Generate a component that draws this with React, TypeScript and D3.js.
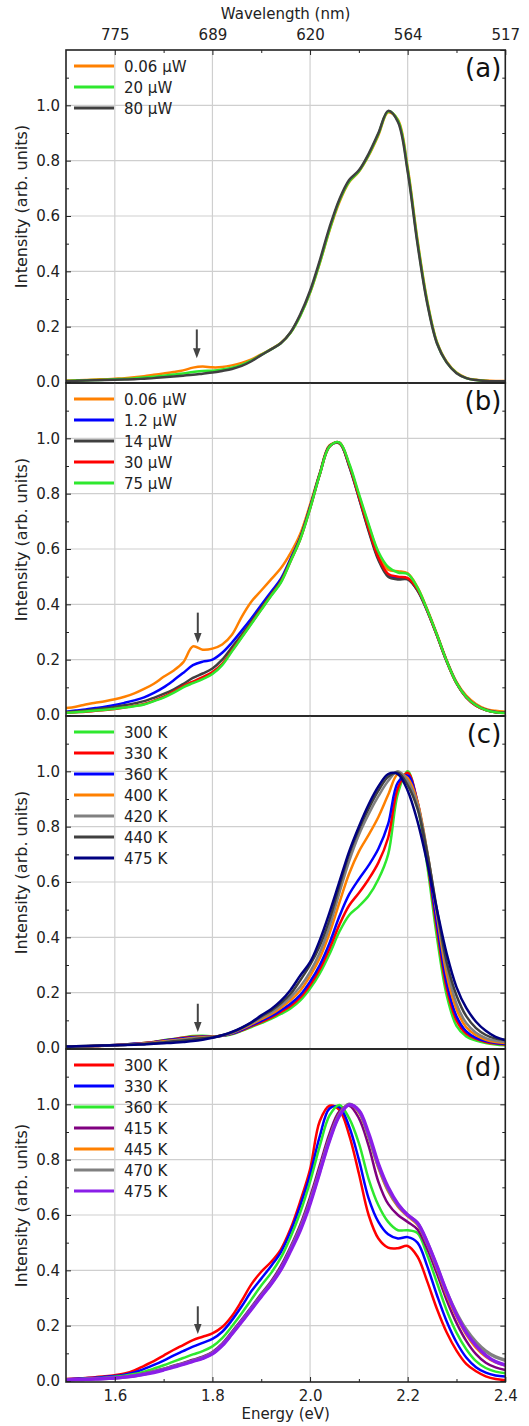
import React, { useRef, useEffect } from 'react';
import * as d3 from 'd3';

// photon energy grid (eV)
const ENERGY = [
  1.5, 1.52, 1.54, 1.56, 1.58, 1.6, 1.62, 1.64, 1.66, 1.68,
  1.7, 1.72, 1.74, 1.76, 1.78, 1.8, 1.82, 1.84, 1.86, 1.88,
  1.9, 1.92, 1.94, 1.96, 1.98, 2.0, 2.02, 2.04, 2.06, 2.08,
  2.1, 2.12, 2.14, 2.16, 2.18, 2.2, 2.22, 2.24, 2.26, 2.28,
  2.3, 2.32, 2.34, 2.36, 2.38, 2.4,
];

const ENERGY_TICKS = [1.6, 1.8, 2.0, 2.2, 2.4];
const ENERGY_MINOR = [1.7, 1.9, 2.1, 2.3];
const WAVELENGTH_LABELS = ['775', '689', '620', '564', '517'];
const Y_TICKS = [0, 0.2, 0.4, 0.6, 0.8, 1.0];
const Y_MINOR = [0.1, 0.3, 0.5, 0.7, 0.9, 1.1];

// (a) power series
const A_ORANGE = [
  0.005, 0.006, 0.007, 0.009, 0.01, 0.012, 0.014, 0.017, 0.021, 0.026,
  0.031, 0.036, 0.042, 0.052, 0.056, 0.053, 0.054, 0.06, 0.069, 0.082,
  0.1, 0.119, 0.141, 0.178, 0.24, 0.322, 0.43, 0.548, 0.65, 0.722,
  0.76, 0.818, 0.892, 0.975, 0.948, 0.775, 0.515, 0.295, 0.145, 0.073,
  0.034, 0.015, 0.008, 0.005, 0.004, 0.004,
];
const A_GREEN = [
  0.004, 0.005, 0.006, 0.007, 0.008, 0.01, 0.011, 0.013, 0.016, 0.019,
  0.023, 0.027, 0.031, 0.036, 0.04, 0.041, 0.045, 0.052, 0.062, 0.078,
  0.098, 0.118, 0.14, 0.178, 0.24, 0.324, 0.432, 0.552, 0.655, 0.725,
  0.762, 0.821, 0.896, 0.978, 0.945, 0.768, 0.508, 0.29, 0.142, 0.071,
  0.033, 0.014, 0.007, 0.004, 0.003, 0.003,
];
const A_GRAY = [
  0.003, 0.004, 0.005, 0.006, 0.007, 0.008, 0.009, 0.01, 0.012, 0.014,
  0.017, 0.02, 0.023, 0.026, 0.03, 0.034, 0.04, 0.047, 0.058, 0.075,
  0.097, 0.118, 0.14, 0.18, 0.245, 0.33, 0.44, 0.56, 0.66, 0.73,
  0.765, 0.825, 0.9, 0.98, 0.94, 0.76, 0.5, 0.284, 0.139, 0.07,
  0.032, 0.014, 0.007, 0.004, 0.003, 0.003,
];

// (b) power series
const B_ORANGE = [
  0.025, 0.03, 0.038, 0.044, 0.05, 0.057, 0.066, 0.078, 0.094, 0.113,
  0.138, 0.16, 0.19, 0.248, 0.236, 0.24, 0.255, 0.29, 0.355, 0.41,
  0.45, 0.49, 0.53, 0.585, 0.655, 0.76, 0.875, 0.975, 0.982, 0.905,
  0.795, 0.685, 0.585, 0.525, 0.52, 0.512, 0.462, 0.382, 0.292, 0.198,
  0.12, 0.07, 0.04, 0.022, 0.015, 0.012,
];
const B_BLUE = [
  0.012, 0.016, 0.02, 0.025, 0.03, 0.036, 0.044, 0.053, 0.064, 0.08,
  0.1, 0.125, 0.152, 0.18, 0.193, 0.2, 0.225, 0.262, 0.305, 0.35,
  0.398, 0.445, 0.492, 0.565, 0.642, 0.752, 0.872, 0.972, 0.983, 0.902,
  0.787, 0.67, 0.565, 0.505, 0.495, 0.492, 0.452, 0.377, 0.288, 0.194,
  0.116, 0.065, 0.035, 0.019, 0.011, 0.008,
];
const B_GRAY = [
  0.01, 0.013, 0.016, 0.02, 0.024, 0.029, 0.035, 0.042, 0.05, 0.062,
  0.076, 0.092, 0.112, 0.134, 0.15, 0.168, 0.2, 0.245, 0.29, 0.338,
  0.388, 0.436, 0.485, 0.56, 0.64, 0.75, 0.872, 0.972, 0.983, 0.9,
  0.785, 0.665, 0.56, 0.5, 0.49, 0.49, 0.45, 0.376, 0.287, 0.193,
  0.115, 0.064, 0.034, 0.018, 0.01, 0.008,
];
const B_RED = [
  0.008, 0.01, 0.012, 0.015, 0.018, 0.022, 0.027, 0.033, 0.04, 0.052,
  0.066, 0.084, 0.104, 0.121, 0.137, 0.155, 0.185, 0.233, 0.282, 0.332,
  0.382, 0.432, 0.48, 0.556, 0.636, 0.746, 0.87, 0.97, 0.985, 0.905,
  0.79, 0.675, 0.57, 0.51, 0.5, 0.495, 0.455, 0.378, 0.288, 0.194,
  0.115, 0.064, 0.034, 0.018, 0.01, 0.007,
];
const B_GREEN = [
  0.008, 0.01, 0.013, 0.016, 0.019, 0.023, 0.027, 0.032, 0.038, 0.05,
  0.063, 0.08, 0.1, 0.115, 0.13, 0.148, 0.18, 0.23, 0.28, 0.33,
  0.38, 0.43, 0.478, 0.555, 0.635, 0.745, 0.87, 0.97, 0.985, 0.91,
  0.8, 0.69, 0.59, 0.535, 0.515, 0.51, 0.46, 0.38, 0.29, 0.195,
  0.116, 0.065, 0.035, 0.018, 0.01, 0.007,
];

// (c) temperature series
const C_300 = [
  0.003, 0.004, 0.005, 0.007, 0.009, 0.011, 0.013, 0.015, 0.018, 0.022,
  0.028, 0.033, 0.038, 0.043, 0.044, 0.042, 0.044, 0.05, 0.062, 0.076,
  0.09, 0.105, 0.123, 0.143, 0.172, 0.215, 0.27, 0.34, 0.42, 0.48,
  0.512, 0.55, 0.61, 0.7, 0.92, 1.0, 0.88, 0.66, 0.4, 0.19,
  0.08, 0.042, 0.027, 0.018, 0.013, 0.01,
];
const C_330 = [
  0.004, 0.005, 0.006, 0.007, 0.009, 0.011, 0.013, 0.015, 0.018, 0.022,
  0.027, 0.032, 0.037, 0.041, 0.042, 0.041, 0.044, 0.051, 0.064, 0.079,
  0.094, 0.11, 0.13, 0.152, 0.183, 0.228, 0.285, 0.36, 0.445, 0.515,
  0.56, 0.61, 0.67, 0.76, 0.94, 0.995, 0.89, 0.68, 0.43, 0.215,
  0.1, 0.052, 0.033, 0.022, 0.016, 0.013,
];
const C_360 = [
  0.004, 0.005, 0.006, 0.007, 0.009, 0.011, 0.013, 0.015, 0.017, 0.021,
  0.026, 0.031, 0.035, 0.039, 0.041, 0.04, 0.044, 0.052, 0.066, 0.082,
  0.098, 0.115, 0.136, 0.16, 0.192, 0.24, 0.3, 0.38, 0.475, 0.555,
  0.61, 0.66, 0.72, 0.81, 0.96, 0.985, 0.89, 0.69, 0.45, 0.235,
  0.115, 0.06, 0.037, 0.025, 0.018, 0.015,
];
const C_400 = [
  0.004, 0.005, 0.006, 0.007, 0.008, 0.01, 0.012, 0.014, 0.016, 0.02,
  0.024, 0.028, 0.032, 0.036, 0.039, 0.04, 0.045, 0.054, 0.069, 0.086,
  0.104, 0.122, 0.145, 0.172, 0.208, 0.26, 0.325, 0.415, 0.525, 0.63,
  0.71, 0.77, 0.835, 0.915, 0.99, 0.975, 0.89, 0.71, 0.48, 0.265,
  0.14, 0.075, 0.046, 0.03, 0.022, 0.018,
];
const C_420 = [
  0.004, 0.005, 0.006, 0.007, 0.008, 0.01, 0.011, 0.013, 0.015, 0.018,
  0.022, 0.026, 0.03, 0.034, 0.037, 0.039, 0.045, 0.055, 0.071, 0.089,
  0.109, 0.128, 0.153, 0.183, 0.222, 0.275, 0.345, 0.44, 0.56, 0.675,
  0.77, 0.845, 0.91, 0.965, 1.0, 0.965, 0.88, 0.71, 0.49, 0.29,
  0.16, 0.09, 0.055, 0.036, 0.026, 0.022,
];
const C_440 = [
  0.005, 0.006, 0.007, 0.008, 0.009, 0.01, 0.011, 0.012, 0.014, 0.017,
  0.02, 0.024, 0.027, 0.031, 0.035, 0.038, 0.046, 0.057, 0.073, 0.092,
  0.114, 0.135, 0.162, 0.195, 0.245, 0.3, 0.37, 0.465, 0.585, 0.7,
  0.79, 0.865, 0.93, 0.98, 0.995, 0.95, 0.865, 0.705, 0.5, 0.31,
  0.19, 0.115, 0.072, 0.047, 0.034, 0.03,
];
const C_475 = [
  0.005, 0.006, 0.007, 0.008, 0.009, 0.01, 0.011, 0.012, 0.013, 0.015,
  0.017, 0.019, 0.022, 0.025, 0.03, 0.037, 0.046, 0.058, 0.074, 0.093,
  0.118, 0.14, 0.17, 0.21, 0.262, 0.31, 0.39, 0.49, 0.6, 0.71,
  0.8, 0.88, 0.945, 0.99, 0.99, 0.93, 0.82, 0.67, 0.5, 0.34,
  0.22, 0.145, 0.095, 0.062, 0.04, 0.028,
];

// (d) temperature series
const D_300 = [
  0.007, 0.009, 0.011, 0.014, 0.017, 0.021, 0.027, 0.038, 0.055, 0.072,
  0.092, 0.112, 0.13, 0.148, 0.16, 0.172, 0.195, 0.235, 0.29, 0.35,
  0.395, 0.43, 0.475, 0.55, 0.65, 0.765, 0.94, 0.995, 0.98, 0.89,
  0.75, 0.6, 0.515, 0.482, 0.48, 0.488, 0.45, 0.36, 0.26, 0.175,
  0.11, 0.062, 0.035, 0.017, 0.007, 0.003,
];
const D_330 = [
  0.006, 0.008, 0.01, 0.012, 0.015, 0.018, 0.023, 0.031, 0.044, 0.058,
  0.074, 0.092, 0.108, 0.124, 0.138, 0.152, 0.178, 0.22, 0.27, 0.325,
  0.37, 0.415, 0.465, 0.54, 0.635, 0.745, 0.885, 0.985, 0.99, 0.92,
  0.8, 0.66, 0.575, 0.53, 0.515, 0.52, 0.5, 0.415, 0.31, 0.215,
  0.14, 0.085, 0.05, 0.03, 0.02, 0.016,
];
const D_360 = [
  0.005, 0.006, 0.008, 0.01, 0.012, 0.015, 0.019, 0.025, 0.034, 0.045,
  0.057, 0.07, 0.083, 0.096, 0.108, 0.125, 0.155, 0.198, 0.245, 0.295,
  0.345, 0.39, 0.445, 0.52, 0.61, 0.72, 0.85, 0.96, 0.998, 0.95,
  0.86, 0.73, 0.635, 0.575, 0.545, 0.545, 0.535, 0.455, 0.355, 0.255,
  0.175, 0.115, 0.072, 0.047, 0.034, 0.028,
];
const D_415 = [
  0.004, 0.005, 0.006, 0.008, 0.01, 0.012, 0.015, 0.02, 0.027, 0.035,
  0.044, 0.055, 0.065, 0.077, 0.088, 0.105, 0.135, 0.178, 0.222, 0.268,
  0.315, 0.36, 0.415, 0.485, 0.565, 0.665, 0.78, 0.895, 0.975, 0.995,
  0.95, 0.85, 0.72, 0.64, 0.6, 0.575, 0.548, 0.478, 0.388, 0.292,
  0.21, 0.145, 0.097, 0.066, 0.049, 0.04,
];
const D_445 = [
  0.004, 0.005, 0.006, 0.008, 0.009, 0.011, 0.014, 0.019, 0.025, 0.033,
  0.042, 0.052, 0.062, 0.073, 0.084, 0.1, 0.13, 0.172, 0.216, 0.262,
  0.308, 0.352, 0.405, 0.475, 0.552, 0.65, 0.765, 0.88, 0.965, 1.0,
  0.97, 0.88, 0.77, 0.685, 0.63, 0.595, 0.565, 0.495, 0.405, 0.31,
  0.232, 0.168, 0.12, 0.088, 0.067, 0.056,
];
const D_470 = [
  0.004, 0.005, 0.006, 0.008, 0.009, 0.011, 0.014, 0.019, 0.025, 0.033,
  0.042, 0.052, 0.062, 0.073, 0.084, 0.1, 0.13, 0.172, 0.216, 0.262,
  0.308, 0.352, 0.405, 0.475, 0.552, 0.648, 0.76, 0.875, 0.962, 1.0,
  0.975, 0.885, 0.778, 0.692, 0.636, 0.6, 0.57, 0.5, 0.412, 0.32,
  0.245, 0.185, 0.14, 0.108, 0.087, 0.075,
];
const D_475 = [
  0.004, 0.005, 0.006, 0.007, 0.009, 0.011, 0.014, 0.018, 0.024, 0.031,
  0.04, 0.05, 0.06, 0.071, 0.082, 0.098, 0.128, 0.17, 0.214, 0.26,
  0.305, 0.35, 0.402, 0.47, 0.545, 0.64, 0.755, 0.87, 0.958, 0.998,
  0.978, 0.895, 0.785, 0.7, 0.64, 0.6, 0.572, 0.502, 0.415, 0.322,
  0.24, 0.175, 0.128, 0.093, 0.07, 0.058,
];

// arrows: [energy, start intensity, tip intensity]
const ARROW_A = [1.768, 0.19, 0.086];
const ARROW_B = [1.77, 0.37, 0.26];
const ARROW_C = [1.77, 0.16, 0.058];
const ARROW_D = [1.77, 0.27, 0.17];

const ORANGE = '#ff8000';
const GREEN = '#2ee82e';
const DGRAY = '#404040';

type Series = { label: string; color: string; values: number[]; width?: number };
type Panel = { tag: string; series: Series[]; arrow: number[] };

const PANELS: Panel[] = [
  {
    tag: '(a)',
    arrow: ARROW_A,
    series: [
      { label: '0.06 μW', color: ORANGE, values: A_ORANGE },
      { label: '20 μW', color: GREEN, values: A_GREEN },
      { label: '80 μW', color: DGRAY, values: A_GRAY },
    ],
  },
  {
    tag: '(b)',
    arrow: ARROW_B,
    series: [
      { label: '0.06 μW', color: ORANGE, values: B_ORANGE },
      { label: '1.2 μW', color: '#0000ff', values: B_BLUE },
      { label: '14 μW', color: DGRAY, values: B_GRAY },
      { label: '30 μW', color: '#ff0000', values: B_RED },
      { label: '75 μW', color: GREEN, values: B_GREEN },
    ],
  },
  {
    tag: '(c)',
    arrow: ARROW_C,
    series: [
      { label: '300 K', color: GREEN, values: C_300 },
      { label: '330 K', color: '#ff0000', values: C_330 },
      { label: '360 K', color: '#0000ff', values: C_360 },
      { label: '400 K', color: ORANGE, values: C_400 },
      { label: '420 K', color: '#808080', values: C_420 },
      { label: '440 K', color: DGRAY, values: C_440 },
      { label: '475 K', color: '#000080', values: C_475 },
    ],
  },
  {
    tag: '(d)',
    arrow: ARROW_D,
    series: [
      { label: '300 K', color: '#ff0000', values: D_300 },
      { label: '330 K', color: '#0000ff', values: D_330 },
      { label: '360 K', color: GREEN, values: D_360 },
      { label: '415 K', color: '#800080', values: D_415 },
      { label: '445 K', color: ORANGE, values: D_445 },
      { label: '470 K', color: '#808080', values: D_470, width: 3.5 },
      { label: '475 K', color: '#8a1ee8', values: D_475, width: 3.5 },
    ],
  },
];

const W = 529;
const H = 1426;
const LEFT = 66;
const RIGHT = 505.3;
const TOP = 50;
const PANEL_H = 333;
const FONT = "'DejaVu Sans', Verdana, sans-serif";
const INK = '#222';
const GRID = '#cfcfcf';

export default function App() {
  const svgRef = useRef<SVGSVGElement>(null);

  useEffect(() => {
    const svg = d3.select(svgRef.current);
    svg.selectAll('*').remove();

    const x = d3.scaleLinear().domain([1.5, 2.4]).range([LEFT, RIGHT]);

    PANELS.forEach((p, i) => {
      const top = TOP + i * PANEL_H;
      const bottom = top + PANEL_H;
      const y = d3.scaleLinear().domain([0, 1.2]).range([bottom - 1, top]);
      const g = svg.append('g');

      // clip
      const clipId = `clip-${i}`;
      g.append('clipPath')
        .attr('id', clipId)
        .append('rect')
        .attr('x', LEFT)
        .attr('y', top)
        .attr('width', RIGHT - LEFT)
        .attr('height', PANEL_H);

      // grid lines
      g.selectAll('.vgrid')
        .data(ENERGY_TICKS.filter(d => d < 2.4))
        .join('line')
        .attr('x1', d => x(d))
        .attr('x2', d => x(d))
        .attr('y1', top)
        .attr('y2', bottom)
        .attr('stroke', GRID)
        .attr('stroke-width', 1.2);
      g.selectAll('.hgrid')
        .data(Y_TICKS.filter(d => d > 0))
        .join('line')
        .attr('x1', LEFT)
        .attr('x2', RIGHT)
        .attr('y1', d => y(d))
        .attr('y2', d => y(d))
        .attr('stroke', GRID)
        .attr('stroke-width', 1.2);

      // spectra
      const line = d3
        .line<number>()
        .x((_, k) => x(ENERGY[k]))
        .y(d => y(d))
        .curve(d3.curveCatmullRom);
      g.append('g')
        .attr('clip-path', `url(#${clipId})`)
        .selectAll('path')
        .data(p.series)
        .join('path')
        .attr('fill', 'none')
        .attr('stroke', d => d.color)
        .attr('stroke-width', d => d.width ?? 2.5)
        .attr('stroke-linejoin', 'round')
        .attr('d', d => line(d.values));

      // frame
      g.append('rect')
        .attr('x', LEFT)
        .attr('y', top)
        .attr('width', RIGHT - LEFT)
        .attr('height', PANEL_H)
        .attr('fill', 'none')
        .attr('stroke', INK)
        .attr('stroke-width', 1.6);

      // left axis
      const left = g.append('g').attr('transform', `translate(${LEFT},0)`);
      left.call(d3.axisLeft(y).tickValues(Y_TICKS).tickSize(-5).tickPadding(6).tickFormat(d3.format('.1f')));
      left.append('g').call(d3.axisLeft(y).tickValues(Y_MINOR).tickSize(-3).tickFormat(() => ''));
      left.selectAll('.domain').remove();
      left.attr('font-size', 15).attr('font-family', FONT).attr('color', INK);

      // right axis
      const right = g.append('g').attr('transform', `translate(${RIGHT},0)`);
      right.call(d3.axisRight(y).tickValues([...Y_TICKS, 1.2]).tickSize(-5).tickFormat(() => ''));
      right.append('g').call(d3.axisRight(y).tickValues(Y_MINOR).tickSize(-3).tickFormat(() => ''));
      right.selectAll('.domain').remove();
      right.attr('color', INK);

      // y label
      g.append('text')
        .attr('transform', `translate(27,${(top + bottom) / 2 - 10}) rotate(-90)`)
        .attr('text-anchor', 'middle')
        .attr('font-family', FONT)
        .attr('font-size', 16)
        .attr('fill', INK)
        .text('Intensity (arb. units)');

      // panel tag
      g.append('text')
        .attr('x', RIGHT - 4)
        .attr('y', top + 27)
        .attr('text-anchor', 'end')
        .attr('font-family', FONT)
        .attr('font-size', 26)
        .attr('fill', '#111')
        .text(p.tag);

      // legend
      const leg = g
        .selectAll('.leg')
        .data(p.series)
        .join('g')
        .attr('transform', (_, k) => `translate(0,${top + 16 + k * 21})`);
      leg.append('line')
        .attr('x1', 74)
        .attr('x2', 114)
        .attr('stroke', d => d.color)
        .attr('stroke-width', 3);
      leg.append('text')
        .attr('x', 124)
        .attr('y', 5.5)
        .attr('font-family', FONT)
        .attr('font-size', 15)
        .attr('fill', INK)
        .text(d => d.label);

      // arrow
      const [ae, a0, a1] = p.arrow;
      const ax = x(ae);
      const ay0 = y(a0);
      const ay1 = y(a1);
      g.append('line')
        .attr('x1', ax)
        .attr('x2', ax)
        .attr('y1', ay0)
        .attr('y2', ay1 - 8)
        .attr('stroke', '#444')
        .attr('stroke-width', 2);
      g.append('path')
        .attr('d', `M${ax - 3.8},${ay1 - 10}L${ax + 3.8},${ay1 - 10}L${ax},${ay1}Z`)
        .attr('fill', '#444');

      // top axis (wavelength)
      if (i === 0) {
        const ta = g.append('g').attr('transform', `translate(0,${top})`);
        ta.call(
          d3.axisTop(x).tickValues(ENERGY_TICKS).tickSize(-5).tickPadding(10)
            .tickFormat((_, k) => WAVELENGTH_LABELS[k])
        );
        ta.append('g').call(d3.axisTop(x).tickValues(ENERGY_MINOR).tickSize(-3).tickFormat(() => ''));
        ta.selectAll('.domain').remove();
        ta.attr('font-size', 15).attr('font-family', FONT).attr('color', INK);
        g.append('text')
          .attr('x', (LEFT + RIGHT) / 2)
          .attr('y', 19)
          .attr('text-anchor', 'middle')
          .attr('font-family', FONT)
          .attr('font-size', 15)
          .attr('fill', INK)
          .text('Wavelength (nm)');
      }

      // bottom axis (energy)
      if (i === PANELS.length - 1) {
        const ba = g.append('g').attr('transform', `translate(0,${bottom})`);
        ba.call(d3.axisBottom(x).tickValues(ENERGY_TICKS).tickSize(-5).tickPadding(8).tickFormat(d3.format('.1f')));
        ba.append('g').call(d3.axisBottom(x).tickValues(ENERGY_MINOR).tickSize(-3).tickFormat(() => ''));
        ba.selectAll('.domain').remove();
        ba.attr('font-size', 15).attr('font-family', FONT).attr('color', INK);
        g.append('text')
          .attr('x', (LEFT + RIGHT) / 2)
          .attr('y', 1419)
          .attr('text-anchor', 'middle')
          .attr('font-family', FONT)
          .attr('font-size', 15)
          .attr('fill', INK)
          .text('Energy (eV)');
      }
    });
  }, []);

  return (
    <svg
      ref={svgRef}
      width={W}
      height={H}
      style={{ position: 'absolute', left: 0, top: 0, background: '#fff' }}
    />
  );
}
